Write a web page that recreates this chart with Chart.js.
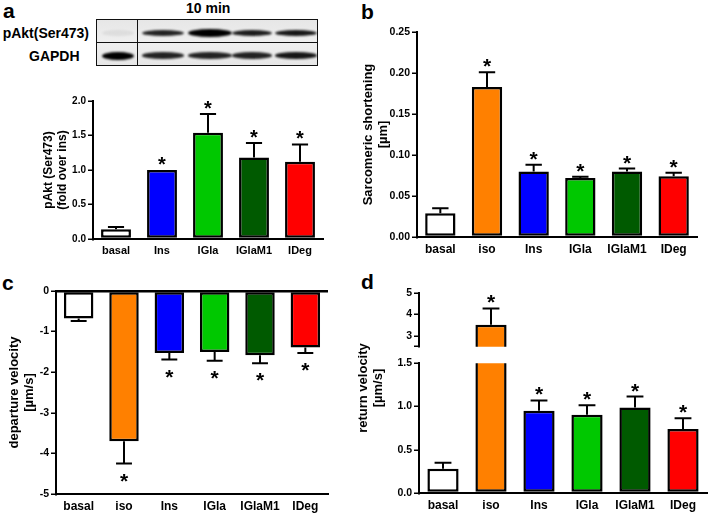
<!DOCTYPE html>
<html><head><meta charset="utf-8">
<script src="https://cdn.jsdelivr.net/npm/chart.js@4.4.1/dist/chart.umd.min.js"></script>
<style>
html,body{margin:0;padding:0;background:#fff;}
body{width:709px;height:513px;position:relative;overflow:hidden;font-family:"Liberation Sans",Arial,sans-serif;font-weight:bold;color:#000;}
canvas{position:absolute;}
.lbl{position:absolute;font-weight:bold;white-space:nowrap;line-height:1;}
.band{position:absolute;border-radius:50%;background:#000;filter:blur(1.3px);}
</style></head><body>

<div class="lbl" style="left:3px;top:0px;font-size:21px;">a</div>
<div class="lbl" style="left:361px;top:1px;font-size:21px;">b</div>
<div class="lbl" style="left:2px;top:272px;font-size:21px;">c</div>
<div class="lbl" style="left:361px;top:271px;font-size:21px;">d</div>

<div class="lbl" style="left:186px;top:1px;font-size:14px;">10 min</div>
<div class="lbl" style="left:0px;width:89px;text-align:right;top:26px;font-size:14px;">pAkt(Ser473)</div>
<div class="lbl" style="left:29px;top:49px;font-size:14px;">GAPDH</div>

<div id="blot" style="position:absolute;left:96px;top:19px;width:222px;height:47px;background:linear-gradient(#e6e6e6,#efefef 50%,#e6e6e6);overflow:hidden;"></div>
<div style="position:absolute;left:96px;top:19px;width:220px;height:45px;border:1px solid #111;"></div>
<div style="position:absolute;left:96px;top:42px;width:222px;height:1px;background:#111;"></div>
<div style="position:absolute;left:137px;top:19px;width:1px;height:47px;background:#111;"></div>

<canvas id="ca" width="335" height="180" style="left:0px;top:85px;"></canvas>
<canvas id="cb" width="349" height="255" style="left:360px;top:15px;"></canvas>
<canvas id="cc" width="340" height="238" style="left:0px;top:275px;"></canvas>
<canvas id="cdu" width="357" height="75" style="left:352px;top:280px;"></canvas>
<canvas id="cdl" width="357" height="158" style="left:352px;top:355px;"></canvas>

<div class="lbl" style="left:290px;top:373px;width:160px;height:30px;font-size:13px;line-height:15px;text-align:center;transform:rotate(-90deg);">return velocity<br>[µm/s]</div>

<script>
// ---------- data ----------
const catsA = ['basal','Ins','IGla','IGlaM1','IDeg'];
const cats  = ['basal','iso','Ins','IGla','IGlaM1','IDeg'];

const pAktMean = [0.14, 1.00, 1.54, 1.18, 1.12];
const pAktSem  = [0.035, 0.00, 0.27, 0.21, 0.25];
const pAktStar = [false, true, true, true, true];

const shortMean = [0.029, 0.183, 0.080, 0.072, 0.080, 0.074];
const shortSem  = [0.006, 0.018, 0.008, 0.0015, 0.0035, 0.0045];

const depMean = [-0.68, -3.70, -1.53, -1.50, -1.58, -1.39];
const depSem  = [0.06, 0.55, 0.16, 0.22, 0.20, 0.14];

const retMean = [0.28, 3.52, 0.95, 0.905, 0.99, 0.74];
const retSem  = [0.07, 0.76, 0.12, 0.11, 0.125, 0.125];

const starsAll = [false, true, true, true, true, true];

const retUpperTicks = [2.5, 3, 4, 5];

// western blot lane intensities (0..1)
const blotPAkt  = [0.06, 0.85, 1.0, 0.88, 0.9];
const blotGAPDH = [1.0, 0.85, 0.85, 0.85, 0.9];

const colorsA = ['#ffffff','#0000ff','#00c800','#005a00','#ff0000'];
const colors6 = ['#ffffff','#ff8000','#0000ff','#00c800','#005a00','#ff0000'];

// ---------- blot drawing ----------
(function(){
  const blot = document.getElementById('blot');
  const laneX = [22, 67, 114, 156, 200];
  const laneW = [32, 42, 44, 40, 42];
  function addBand(cx, cy, w, h, a){
    const d = document.createElement('div');
    d.className = 'band';
    d.style.left = (cx - w/2) + 'px';
    d.style.top = (cy - h/2) + 'px';
    d.style.width = w + 'px';
    d.style.height = h + 'px';
    d.style.opacity = a;
    blot.appendChild(d);
  }
  blotPAkt.forEach((a,i)=> addBand(laneX[i], 14, laneW[i], i===2 ? 8 : 6, a));
  blotGAPDH.forEach((a,i)=> addBand(laneX[i], 36.5, laneW[i], i===0 ? 8 : 6.5, a));
})();

// ---------- chart helpers ----------
Chart.defaults.font.family = '"Liberation Sans", Arial, Helvetica, sans-serif';
Chart.defaults.font.weight = 'bold';
Chart.defaults.color = '#000';

const errStars = {
  id: 'errStars',
  afterDatasetsDraw(chart, args, o){
    if (!o || !o.sem) return;
    const ctx = chart.ctx, ys = chart.scales.y;
    const meta = chart.getDatasetMeta(0);
    const vals = chart.data.datasets[0].data;
    ctx.save();
    ctx.strokeStyle = '#000'; ctx.fillStyle = '#000'; ctx.lineWidth = 2;
    ctx.font = 'bold ' + (o.starSize || 21) + 'px "Liberation Sans", Arial, sans-serif';
    ctx.textAlign = 'center'; ctx.textBaseline = 'alphabetic';
    meta.data.forEach((bar, i) => {
      const v = vals[i];
      if (v > ys.max || v < ys.min) return;
      const dir = v < 0 ? -1 : 1;
      const e = v + dir * o.sem[i];
      const y0 = ys.getPixelForValue(v), y1 = ys.getPixelForValue(e);
      const x = bar.x, hw = bar.width * 0.27;
      if (o.sem[i] > 0){
        ctx.beginPath();
        ctx.moveTo(x, y0); ctx.lineTo(x, y1);
        ctx.moveTo(x - hw, y1); ctx.lineTo(x + hw, y1);
        ctx.stroke();
      }
      if (o.stars[i]){
        const yb = dir > 0 ? y1 + 1 : y1 + 24;
        ctx.fillText('*', x, yb);
      }
    });
    ctx.restore();
  }
};

function makeBar(id, labels, data, colors, o){
  const yScale = {
    min: o.min, max: o.max,
    ticks: { stepSize: o.step, color: '#000', font: {size: o.tickSize || 10.5, weight: 'bold'}, padding: 2, autoSkip: false, callback: o.fmt },
    grid: {
      display: true, drawOnChartArea: !!o.zeroLine, drawTicks: true, tickLength: 5,
      tickColor: '#000', tickWidth: 1.5, lineWidth: 2.5,
      color: c => (o.zeroLine && c.tick && c.tick.value === 0) ? '#000' : 'rgba(0,0,0,0)'
    },
    border: { display: true, color: '#000', width: 2 },
    title: { display: !!o.title, text: o.title, color: '#000', font: {size: o.titleSize || 13, weight: 'bold', lineHeight: 1.15}, padding: {top: o.titlePad || 0, bottom: 0} },
    afterFit: s => { s.width = o.yW; }
  };
  if (o.tickVals) yScale.afterBuildTicks = s => { s.ticks = o.tickVals.map(v => ({value: v})); };
  const ds = { data, backgroundColor: colors, borderColor: '#000', borderWidth: 2.5, borderSkipped: false, barPercentage: 0.65, categoryPercentage: 1 };
  if (o.clip !== undefined) ds.clip = o.clip;
  return new Chart(document.getElementById(id), {
    type: 'bar',
    data: { labels, datasets: [ds] },
    options: {
      responsive: false, animation: false, events: [],
      layout: { padding: o.pad },
      plugins: { legend: {display: false}, tooltip: {enabled: false}, errStars: { sem: o.sem, stars: o.stars, starSize: o.starSize } },
      scales: {
        x: {
          display: o.xDisplay !== false,
          grid: { display: false, drawTicks: false },
          border: { display: true, color: '#000', width: 2 },
          ticks: { color: '#000', font: {size: o.catSize || 12, weight: 'bold'}, padding: 5, maxRotation: 0, autoSkip: false },
          afterFit: s => { s.height = o.xH; }
        },
        y: yScale
      }
    },
    plugins: [errStars]
  });
}

// a
makeBar('ca', catsA, pAktMean, colorsA, {
  min: 0, max: 2, step: 0.5, fmt: v => v.toFixed(1), tickSize: 10, catSize: 11, titleSize: 12, starSize: 20,
  title: ['pAkt (Ser473)', '(fold over ins)'], titlePad: 42,
  pad: {top: 16, right: 12, left: 0, bottom: 0}, yW: 93, xH: 26,
  sem: pAktSem, stars: pAktStar
});
// b
makeBar('cb', cats, shortMean, colors6, {
  min: 0, max: 0.25, step: 0.05, fmt: v => v.toFixed(2),
  title: ['Sarcomeric shortening', '[µm]'], titlePad: 1,
  pad: {top: 17, right: 12, left: 0, bottom: 0}, yW: 57, xH: 33,
  sem: shortSem, stars: starsAll
});
// c
makeBar('cc', cats, depMean, colors6, {
  min: -5, max: 0, step: 1, fmt: v => String(v), zeroLine: true,
  title: ['departure velocity', '[µm/s]'], titlePad: 7,
  pad: {top: 16, right: 12, left: 0, bottom: 0}, yW: 56, xH: 19,
  sem: depSem, stars: starsAll
});
// d upper (broken axis)
makeBar('cdu', cats, retMean, colors6, {
  min: 2.5, max: 5, tickVals: retUpperTicks, fmt: v => (v === 2.5 ? '' : String(v)),
  xDisplay: false, clip: 0,
  pad: {top: 13, right: 2, left: 0, bottom: 6}, yW: 67, xH: 0,
  sem: retSem, stars: starsAll
});
// d lower
makeBar('cdl', cats, retMean, colors6, {
  min: 0, max: 1.5, step: 0.5, fmt: v => v.toFixed(1), clip: 0,
  pad: {top: 7, right: 2, left: 0, bottom: 0}, yW: 67, xH: 20,
  sem: retSem, stars: starsAll
});
</script>
</body></html>
